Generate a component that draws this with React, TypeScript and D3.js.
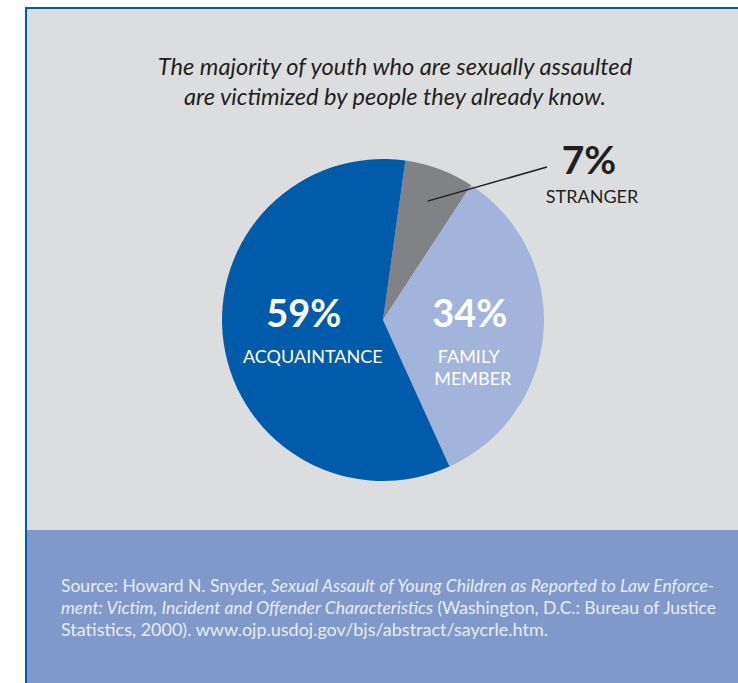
import React from "react";
import * as d3 from "d3";

const categories = ["STRANGER", "FAMILY MEMBER", "ACQUAINTANCE"];
const values = [7, 34, 59];
const labels = ["7%", "34%", "59%"];
const colors = ["#808285", "#a2b4dc", "#005baa"];
const titleLines = [
  "The majority of youth who are sexually assaulted",
  "are victimized by people they already know.",
];

const W = 738;
const H = 683;

export default function App() {
  const cx = 383;
  const cy = 320;
  const R = 161;
  const pie = d3
    .pie<number>()
    .sort(null)
    .startAngle((8 * Math.PI) / 180)
    .endAngle((8 * Math.PI) / 180 + 2 * Math.PI);
  const arcs = pie(values);
  const arc = d3.arc<d3.PieArcDatum<number>>().innerRadius(0).outerRadius(R);
  const leaderArc = d3.arc<d3.PieArcDatum<number>>().innerRadius(127).outerRadius(127);
  const labelArc = d3.arc<d3.PieArcDatum<number>>().innerRadius(86).outerRadius(86);
  const acqArc = d3.arc<d3.PieArcDatum<number>>().innerRadius(80).outerRadius(80);
  const [lx, ly] = leaderArc.centroid(arcs[0]);
  const famC = labelArc.centroid(arcs[1]);
  const acqC = acqArc.centroid(arcs[2]);

  const font = "Lato, 'Open Sans', sans-serif";

  return (
    <svg
      width={W}
      height={H}
      style={{ position: "absolute", left: 0, top: 0 }}
      fontFamily={font}
    >
      <rect x={0} y={0} width={W} height={H} fill="#ffffff" />
      <rect x={25} y={7} width={W - 25} height={H - 7} fill="#005baa" />
      <rect x={27} y={9} width={W - 27} height={530 - 9} fill="#dcdddf" />
      <rect x={27} y={530} width={W - 27} height={H - 530} fill="#7f99cb" />

      {titleLines.map((t, i) => (
        <text
          key={i}
          x={395}
          y={75 + i * 30}
          textAnchor="middle"
          fontStyle="italic"
          fontSize={23.6}
          fill="#231f20"
        >
          {t}
        </text>
      ))}

      <g transform={`translate(${cx},${cy})`}>
        {arcs.map((a, i) => (
          <path key={categories[i]} d={arc(a) || ""} fill={colors[i]} />
        ))}
        <line x1={lx} y1={ly} x2={547 - cx} y2={167 - cy} stroke="#231f20" strokeWidth={1.5} />

        <text x={acqC[0]} y={327 - cy} textAnchor="middle" fontWeight={700} fontSize={38} fill="#ffffff">
          {labels[2]}
        </text>
        <text x={acqC[0] + 9} y={363 - cy} textAnchor="middle" fontSize={18} fill="#ffffff">
          {categories[2]}
        </text>

        <text x={famC[0] + 1} y={327 - cy} textAnchor="middle" fontWeight={700} fontSize={38} fill="#ffffff">
          {labels[1]}
        </text>
        {categories[1].split(" ").map((w, i) => (
          <text key={w} x={famC[0] + i * 4} y={363 - cy + i * 22} textAnchor="middle" fontSize={18} fill="#ffffff">
            {w}
          </text>
        ))}
      </g>

      <text x={589} y={174} textAnchor="middle" fontWeight={700} fontSize={39} fill="#231f20">
        {labels[0]}
      </text>
      <text x={592} y={203} textAnchor="middle" fontSize={18} fill="#231f20">
        {categories[0]}
      </text>

      <g fontSize={17} fill="#e8ecf5">
        <text x={61} y={592} textLength={653} lengthAdjust="spacingAndGlyphs">
          <tspan>Source: Howard N. Snyder, </tspan>
          <tspan fontStyle="italic">Sexual Assault of Young Children as Reported to Law Enforce-</tspan>
        </text>
        <text x={61} y={614} textLength={655} lengthAdjust="spacingAndGlyphs">
          <tspan fontStyle="italic">ment: Victim, Incident and Offender Characteristics</tspan>
          <tspan> (Washington, D.C.: Bureau of Justice</tspan>
        </text>
        <text x={61} y={636} textLength={487} lengthAdjust="spacingAndGlyphs">
          Statistics, 2000). www.ojp.usdoj.gov/bjs/abstract/saycrle.htm.
        </text>
      </g>
    </svg>
  );
}
